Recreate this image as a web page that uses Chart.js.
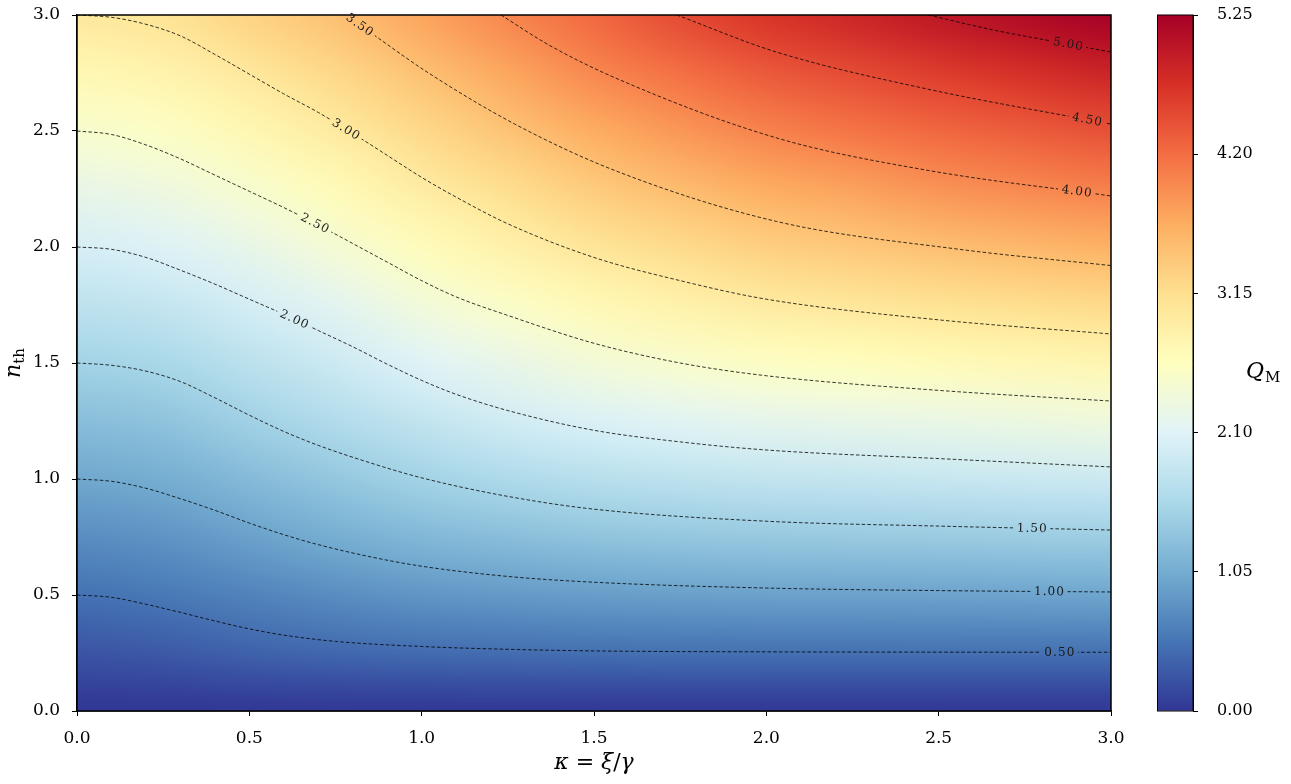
<!DOCTYPE html>
<html>
<head>
<meta charset="utf-8">
<script src="https://cdn.jsdelivr.net/npm/chart.js@4.4.0/dist/chart.umd.min.js"></script>
<style>
	html, body { margin: 0; padding: 0; background: #fff; }
	#quadro { position: relative; width: 1291px; height: 784px; }
	#grafico { position: absolute; left: 0; top: 0; }
	#barra_cores { position: absolute; left: 1111px; top: 0; }
</style>
</head>
<body>
<div id="quadro">
	<canvas id="grafico" width="1291" height="784"></canvas>
	<canvas id="barra_cores" width="180" height="784"></canvas>
</div>
<script>
// grade: Q_M em (kappa, n_th)
var kappa = [0, 0.25, 0.5, 0.75, 1, 1.25, 1.5, 1.75, 2, 2.25, 2.5, 2.75, 3];
var n_th = [0, 0.25, 0.5, 0.75, 1, 1.25, 1.5, 1.75, 2, 2.25, 2.5, 2.75, 3];
// uma linha por valor de n_th (de baixo para cima), uma coluna por kappa
var qm = [
	[0, 0, 0, 0, 0, 0, 0, 0, 0, 0, 0, 0, 0],
	[0.25, 0.29, 0.37, 0.42, 0.45, 0.47, 0.48, 0.49, 0.49, 0.49, 0.49, 0.49, 0.49],
	[0.5, 0.56, 0.66, 0.75, 0.83, 0.87, 0.91, 0.93, 0.95, 0.95, 0.96, 0.97, 0.98],
	[0.75, 0.81, 0.94, 1.07, 1.18, 1.25, 1.32, 1.36, 1.38, 1.4, 1.41, 1.43, 1.44],
	[1, 1.06, 1.21, 1.36, 1.5, 1.6, 1.69, 1.75, 1.8, 1.82, 1.85, 1.88, 1.9],
	[1.25, 1.31, 1.48, 1.64, 1.8, 1.95, 2.05, 2.14, 2.2, 2.24, 2.27, 2.31, 2.35],
	[1.5, 1.56, 1.73, 1.9, 2.1, 2.25, 2.4, 2.5, 2.59, 2.64, 2.69, 2.74, 2.78],
	[1.75, 1.82, 1.98, 2.16, 2.39, 2.55, 2.73, 2.85, 2.97, 3.03, 3.1, 3.16, 3.21],
	[2, 2.08, 2.24, 2.44, 2.67, 2.86, 3.06, 3.2, 3.33, 3.4, 3.5, 3.57, 3.63],
	[2.25, 2.33, 2.49, 2.7, 2.94, 3.16, 3.37, 3.53, 3.68, 3.77, 3.89, 3.97, 4.05],
	[2.5, 2.57, 2.76, 2.97, 3.22, 3.45, 3.68, 3.86, 4.03, 4.14, 4.25, 4.35, 4.45],
	[2.75, 2.83, 3.02, 3.23, 3.48, 3.73, 3.99, 4.18, 4.37, 4.49, 4.62, 4.74, 4.86],
	[3, 3.08, 3.29, 3.5, 3.75, 4.01, 4.25, 4.5, 4.7, 4.85, 5.01, 5.14, 5.25]
];
var qm_max = 5.25;

// curvas de nivel [kappa, n_th]
var niveis = [0.5, 1.0, 1.5, 2.0, 2.5, 3.0, 3.5, 4.0, 4.5, 5.0];
var c050 = [[0, 0.5], [0.1, 0.49], [0.2, 0.46], [0.3, 0.425], [0.4, 0.388], [0.5, 0.354], [0.6, 0.327], [0.75, 0.3], [1.0, 0.278], [1.25, 0.266], [1.5, 0.259], [2.0, 0.255], [3.0, 0.253]];
var c100 = [[0, 1.0], [0.1, 0.99], [0.2, 0.96], [0.3, 0.915], [0.4, 0.865], [0.5, 0.81], [0.6, 0.76], [0.7, 0.717], [0.85, 0.665], [1.0, 0.624], [1.25, 0.58], [1.5, 0.555], [2.0, 0.53], [2.5, 0.519], [3.0, 0.513]];
var c150 = [[0, 1.5], [0.1, 1.49], [0.2, 1.465], [0.3, 1.42], [0.4, 1.35], [0.5, 1.275], [0.6, 1.205], [0.7, 1.145], [0.85, 1.07], [1.0, 1.005], [1.25, 0.925], [1.5, 0.87], [2.0, 0.818], [2.5, 0.797], [3.0, 0.78]];
var c200 = [[0, 2.0], [0.1, 1.99], [0.2, 1.955], [0.3, 1.9], [0.4, 1.84], [0.5, 1.775], [0.6, 1.71], [0.7, 1.64], [0.8, 1.57], [0.9, 1.495], [1.0, 1.425], [1.1, 1.365], [1.25, 1.295], [1.5, 1.21], [1.75, 1.16], [2.0, 1.125], [2.5, 1.088], [3.0, 1.052]];
var c250 = [[0, 2.5], [0.1, 2.485], [0.2, 2.44], [0.3, 2.38], [0.4, 2.31], [0.5, 2.24], [0.6, 2.17], [0.7, 2.095], [0.8, 2.015], [0.9, 1.935], [1.0, 1.855], [1.1, 1.785], [1.25, 1.705], [1.5, 1.585], [1.75, 1.5], [2.0, 1.445], [2.5, 1.382], [3.0, 1.336]];
var c300 = [[0, 3.0], [0.1, 2.99], [0.2, 2.96], [0.3, 2.91], [0.4, 2.83], [0.5, 2.745], [0.6, 2.66], [0.7, 2.58], [0.8, 2.49], [0.9, 2.395], [1.0, 2.3], [1.1, 2.215], [1.25, 2.1], [1.5, 1.955], [1.75, 1.855], [2.0, 1.775], [2.5, 1.686], [3.0, 1.625]];
var c350 = [[0.78, 3.0], [0.865, 2.91], [1.02, 2.75], [1.27, 2.53], [1.56, 2.33], [2.03, 2.11], [2.56, 1.99], [3.0, 1.92]];
var c400 = [[1.23, 3.0], [1.37, 2.87], [1.56, 2.73], [2.03, 2.47], [2.47, 2.33], [3.0, 2.22]];
var c450 = [[1.74, 3.0], [2.03, 2.84], [2.47, 2.68], [3.0, 2.53]];
var c500 = [[2.47, 3.0], [2.66, 2.935], [2.875, 2.875], [3.0, 2.84]];
var contornos = [c050, c100, c150, c200, c250, c300, c350, c400, c450, c500];

var ticks_x = [0, 0.5, 1, 1.5, 2, 2.5, 3];
var ticks_y = [0, 0.5, 1, 1.5, 2, 2.5, 3];
var ticks_barra = [0, 1.05, 2.1, 3.15, 4.2, 5.25];

// onde fica o rotulo de cada curva (em kappa)
var rotulo_kappa = [2.85, 2.82, 2.77, 0.63, 0.69, 0.78, 0.82, 2.9, 2.93, 2.875];

var cores_mapa = ["#313695", "#4575b4", "#74add1", "#abd9e9", "#e0f3f8", "#ffffbf", "#fee090", "#fdae61", "#f46d43", "#d73027", "#a50026"];
var fonte_serif = "'DejaVu Serif', serif";

function hex_para_rgb(h) {
	return [parseInt(h.substr(1, 2), 16), parseInt(h.substr(3, 2), 16), parseInt(h.substr(5, 2), 16)];
}
var cores_rgb = cores_mapa.map(hex_para_rgb);

function cor_do_valor(v) {
	var t = Math.max(0, Math.min(1, v / qm_max)) * 10;
	var i = Math.min(9, Math.floor(t));
	var f = t - i;
	var a = cores_rgb[i];
	var b = cores_rgb[i + 1];
	return [a[0] + (b[0] - a[0]) * f, a[1] + (b[1] - a[1]) * f, a[2] + (b[2] - a[2]) * f];
}

var plugin_mapa = {
	id: "mapa_calor",
	beforeDatasetsDraw: function (chart) {
		var ctx = chart.ctx;
		var area = chart.chartArea;
		var sx = chart.scales.x;
		var sy = chart.scales.y;
		var nx = kappa.length;
		var ny = n_th.length;
		var off = document.createElement("canvas");
		off.width = nx;
		off.height = ny;
		var octx = off.getContext("2d");
		var img = octx.createImageData(nx, ny);
		for (var j = 0; j < ny; j++) {
			for (var i = 0; i < nx; i++) {
				var c = cor_do_valor(qm[j][i]);
				var p = ((ny - 1 - j) * nx + i) * 4;
				img.data[p] = Math.round(c[0]);
				img.data[p + 1] = Math.round(c[1]);
				img.data[p + 2] = Math.round(c[2]);
				img.data[p + 3] = 255;
			}
		}
		octx.putImageData(img, 0, 0);
		var meia_x = (sx.getPixelForValue(kappa[1]) - sx.getPixelForValue(kappa[0])) / 2;
		var meia_y = (sy.getPixelForValue(n_th[0]) - sy.getPixelForValue(n_th[1])) / 2;
		var x0 = sx.getPixelForValue(kappa[0]) - meia_x;
		var x1 = sx.getPixelForValue(kappa[nx - 1]) + meia_x;
		var y0 = sy.getPixelForValue(n_th[ny - 1]) - meia_y;
		var y1 = sy.getPixelForValue(n_th[0]) + meia_y;
		ctx.save();
		ctx.beginPath();
		ctx.rect(area.left, area.top, area.right - area.left, area.bottom - area.top);
		ctx.clip();
		ctx.imageSmoothingEnabled = true;
		ctx.imageSmoothingQuality = "high";
		ctx.drawImage(off, x0, y0, x1 - x0, y1 - y0);
		ctx.restore();
	}
};

function ponto_na_curva(curva, k) {
	if (k <= curva[0][0]) return curva[0];
	for (var i = 0; i < curva.length - 1; i++) {
		if (k >= curva[i][0] && k <= curva[i + 1][0]) {
			var f = (k - curva[i][0]) / (curva[i + 1][0] - curva[i][0]);
			return [k, curva[i][1] + f * (curva[i + 1][1] - curva[i][1])];
		}
	}
	return curva[curva.length - 1];
}

var caixas = [];

function fonte_rotulo(ctx) {
	ctx.font = "12px " + fonte_serif;
	ctx.letterSpacing = "1.1px";
}

var plugin_rotulos = {
	id: "rotulos_contorno",
	beforeDatasetsDraw: function (chart) {
		var ctx = chart.ctx;
		var sx = chart.scales.x;
		var sy = chart.scales.y;
		caixas = [];
		ctx.save();
		fonte_rotulo(ctx);
		for (var i = 0; i < contornos.length; i++) {
			var k = rotulo_kappa[i];
			var p = ponto_na_curva(contornos[i], k);
			var p1 = ponto_na_curva(contornos[i], k - 0.05);
			var p2 = ponto_na_curva(contornos[i], k + 0.05);
			var ang = Math.atan2(sy.getPixelForValue(p2[1]) - sy.getPixelForValue(p1[1]), sx.getPixelForValue(p2[0]) - sx.getPixelForValue(p1[0]));
			var texto = niveis[i].toFixed(2);
			caixas.push({
				x: sx.getPixelForValue(p[0]),
				y: sy.getPixelForValue(p[1]),
				ang: ang,
				w: ctx.measureText(texto).width + 6,
				h: 12,
				texto: texto
			});
		}
		ctx.restore();
	},
	beforeDatasetDraw: function (chart, args) {
		var ctx = chart.ctx;
		var b = caixas[args.index];
		ctx.save();
		ctx.beginPath();
		ctx.rect(0, 0, chart.width, chart.height);
		var c = Math.cos(b.ang);
		var s = Math.sin(b.ang);
		var cantos = [[-b.w / 2, -b.h / 2], [b.w / 2, -b.h / 2], [b.w / 2, b.h / 2], [-b.w / 2, b.h / 2]];
		cantos.forEach(function (q, i) {
			var px = b.x + q[0] * c - q[1] * s;
			var py = b.y + q[0] * s + q[1] * c;
			if (i === 0) ctx.moveTo(px, py);
			else ctx.lineTo(px, py);
		});
		ctx.closePath();
		ctx.clip("evenodd");
	},
	afterDatasetDraw: function (chart) {
		chart.ctx.restore();
	},
	afterDatasetsDraw: function (chart) {
		var ctx = chart.ctx;
		caixas.forEach(function (b) {
			ctx.save();
			fonte_rotulo(ctx);
			ctx.fillStyle = "#1a1a1a";
			ctx.textAlign = "center";
			ctx.textBaseline = "middle";
			ctx.translate(b.x, b.y);
			ctx.rotate(b.ang);
			ctx.fillText(b.texto, 0.6, 0.5);
			ctx.restore();
		});
	}
};

var plugin_titulos = {
	id: "titulos_eixos",
	afterDraw: function (chart) {
		var ctx = chart.ctx;
		var area = chart.chartArea;
		ctx.save();
		// moldura
		ctx.strokeStyle = "#000";
		ctx.lineWidth = 1.5;
		ctx.strokeRect(area.left, area.top, area.right - area.left, area.bottom - area.top);

		ctx.fillStyle = "#000";
		ctx.textBaseline = "alphabetic";
		ctx.textAlign = "left";
		var partes = [["κ", "italic 22px "], [" = ", "22px "], ["ξ", "italic 22px "], ["/", "22px "], ["γ", "italic 22px "]];
		var total = 0;
		partes.forEach(function (p) {
			ctx.font = p[1] + fonte_serif;
			total += ctx.measureText(p[0]).width;
		});
		var x = (area.left + area.right) / 2 - total / 2;
		partes.forEach(function (p) {
			ctx.font = p[1] + fonte_serif;
			ctx.fillText(p[0], x, 769);
			x += ctx.measureText(p[0]).width;
		});

		ctx.translate(20, (area.top + area.bottom) / 2);
		ctx.rotate(-Math.PI / 2);
		ctx.font = "italic 22px " + fonte_serif;
		var wn = ctx.measureText("n").width;
		ctx.font = "15px " + fonte_serif;
		var wt = ctx.measureText("th").width;
		ctx.font = "italic 22px " + fonte_serif;
		ctx.fillText("n", -(wn + wt) / 2, 0);
		ctx.font = "15px " + fonte_serif;
		ctx.fillText("th", -(wn + wt) / 2 + wn, 4);
		ctx.restore();
	}
};

var series = contornos.map(function (curva, i) {
	return {
		label: niveis[i].toFixed(2),
		data: curva.map(function (p) {
			return { x: p[0], y: p[1] };
		}),
		borderColor: "rgba(0, 0, 0, 0.88)",
		borderWidth: 0.9,
		borderDash: [3.5, 2.2],
		pointRadius: 0,
		fill: false,
		cubicInterpolationMode: "monotone"
	};
});

Chart.defaults.font.family = fonte_serif;
Chart.defaults.color = "#000";

new Chart(document.getElementById("grafico"), {
	type: "line",
	data: { datasets: series },
	options: {
		responsive: false,
		animation: false,
		layout: { padding: { top: 15, right: 180, bottom: 0, left: 0 } },
		plugins: {
			legend: { display: false },
			tooltip: { enabled: false }
		},
		scales: {
			x: {
				type: "linear",
				min: 0,
				max: 3,
				afterBuildTicks: function (s) {
					s.ticks = ticks_x.map(function (v) { return { value: v }; });
				},
				afterFit: function (s) {
					s.height = 73;
					s.paddingLeft = 0;
					s.paddingRight = 0;
				},
				ticks: {
					font: { size: 17 },
					color: "#000",
					padding: 12,
					maxRotation: 0,
					callback: function (v) { return v.toFixed(1); }
				},
				grid: { drawOnChartArea: false, tickLength: 5, color: "#000", tickWidth: 1 },
				border: { color: "#000", width: 1.5 }
			},
			y: {
				type: "linear",
				min: 0,
				max: 3,
				afterBuildTicks: function (s) {
					s.ticks = ticks_y.map(function (v) { return { value: v }; });
				},
				afterFit: function (s) {
					s.width = 77;
					s.paddingTop = 0;
					s.paddingBottom = 0;
				},
				ticks: {
					font: { size: 17 },
					color: "#000",
					padding: 12,
					callback: function (v) { return v.toFixed(1); }
				},
				grid: { drawOnChartArea: false, tickLength: 5, color: "#000", tickWidth: 1 },
				border: { color: "#000", width: 1.5 }
			}
		}
	},
	plugins: [plugin_mapa, plugin_rotulos, plugin_titulos]
});

// barra de cores
var plugin_barra = {
	id: "contorno_barra",
	afterDraw: function (chart) {
		var ctx = chart.ctx;
		var area = chart.chartArea;
		ctx.save();
		ctx.strokeStyle = "#000";
		ctx.lineWidth = 1;
		ctx.strokeRect(area.left + 0.5, area.top, area.right - area.left - 0.5, area.bottom - area.top);
		ctx.fillStyle = "#000";
		ctx.textBaseline = "alphabetic";
		ctx.textAlign = "left";
		ctx.font = "italic 22px " + fonte_serif;
		ctx.fillText("Q", 135, 378);
		var wq = ctx.measureText("Q").width;
		ctx.font = "15px " + fonte_serif;
		ctx.fillText("M", 135 + wq + 1, 382);
		ctx.restore();
	}
};

new Chart(document.getElementById("barra_cores"), {
	type: "bar",
	data: {
		labels: ["Q"],
		datasets: [{
			data: [qm_max],
			backgroundColor: function (contexto) {
				var area = contexto.chart.chartArea;
				if (!area) return cores_mapa[5];
				var g = contexto.chart.ctx.createLinearGradient(0, area.bottom, 0, area.top);
				cores_mapa.forEach(function (c, i) {
					g.addColorStop(i / 10, c);
				});
				return g;
			},
			borderWidth: 0,
			barPercentage: 1,
			categoryPercentage: 1
		}]
	},
	options: {
		responsive: false,
		animation: false,
		layout: { padding: { top: 15, right: 0, bottom: 73, left: 46 } },
		plugins: {
			legend: { display: false },
			tooltip: { enabled: false }
		},
		scales: {
			x: { display: false },
			y: {
				position: "right",
				min: 0,
				max: qm_max,
				afterBuildTicks: function (s) {
					s.ticks = ticks_barra.map(function (v) { return { value: v }; });
				},
				afterFit: function (s) {
					s.width = 98;
					s.paddingTop = 0;
					s.paddingBottom = 0;
				},
				ticks: {
					font: { size: 16 },
					color: "#000",
					padding: 19,
					callback: function (v) { return v.toFixed(2); }
				},
				grid: { drawOnChartArea: false, tickLength: 5, color: "#000" },
				border: { color: "#000", width: 1 }
			}
		}
	},
	plugins: [plugin_barra]
});
</script>
</body>
</html>
